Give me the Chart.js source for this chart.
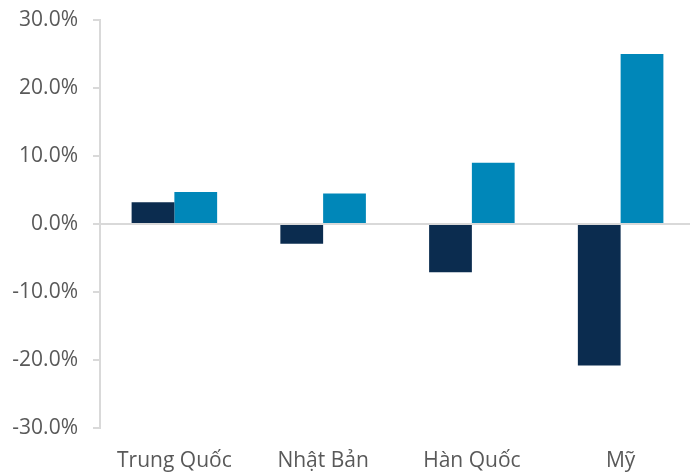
<!DOCTYPE html>
<html>
<head>
<meta charset="utf-8">
<script src="https://cdn.jsdelivr.net/npm/chart.js@4"></script>
<style>
    html, body { margin: 0; padding: 0; background: #fff; overflow: hidden; }
    #wrap { width: 695px; height: 472px; }
</style>
</head>
<body>
<div id="wrap"><canvas id="barChart"></canvas></div>
<script>
var categories = ['Trung Quốc', 'Nhật Bản', 'Hàn Quốc', 'Mỹ'];
var seriesDark = [3.2, -2.9, -7.1, -20.8];
var seriesBlue = [4.7, 4.5, 9.0, 25.0];
var yTicks = [-30, -20, -10, 0, 10, 20, 30];

var axisGrey = '#d9d9d9';
var textGrey = '#595959';

new Chart(document.getElementById('barChart'), {
    type: 'bar',
    data: {
        labels: categories,
        datasets: [{
            data: seriesDark,
            backgroundColor: '#0b2c4f',
            borderWidth: 0
        }, {
            data: seriesBlue,
            backgroundColor: '#0087b9',
            borderWidth: 0
        }]
    },
    options: {
        responsive: true,
        maintainAspectRatio: false,
        animation: false,
        layout: { padding: { top: 20, bottom: 0 } },
        datasets: {
            bar: { categoryPercentage: 0.575, barPercentage: 1.0 }
        },
        plugins: {
            legend: { display: false },
            tooltip: { enabled: false }
        },
        scales: {
            x: {
                grid: { display: false },
                border: { display: false },
                afterFit: function(scale) { scale.height = 44; },
                ticks: {
                    color: textGrey,
                    font: { family: 'Open Sans', size: 21 },
                    padding: 12,
                    maxRotation: 0
                }
            },
            y: {
                min: yTicks[0],
                max: yTicks[yTicks.length - 1],
                afterBuildTicks: function(scale) {
                    scale.ticks = yTicks.map(function(v) { return { value: v }; });
                },
                afterFit: function(scale) {
                    scale.width = 100;
                    scale.paddingTop = 0;
                    scale.paddingBottom = 0;
                },
                border: { display: true, color: axisGrey, width: 2 },
                grid: {
                    color: function(ctx) {
                        return ctx.tick && ctx.tick.value === 0 ? axisGrey : 'rgba(0,0,0,0)';
                    },
                    lineWidth: 2,
                    tickColor: axisGrey,
                    tickLength: 7,
                    drawTicks: true
                },
                ticks: {
                    color: textGrey,
                    font: { family: 'Open Sans', size: 21 },
                    padding: 15,
                    callback: function(v) { return v.toFixed(1) + '%'; }
                }
            }
        }
    }
});
</script>
</body>
</html>
